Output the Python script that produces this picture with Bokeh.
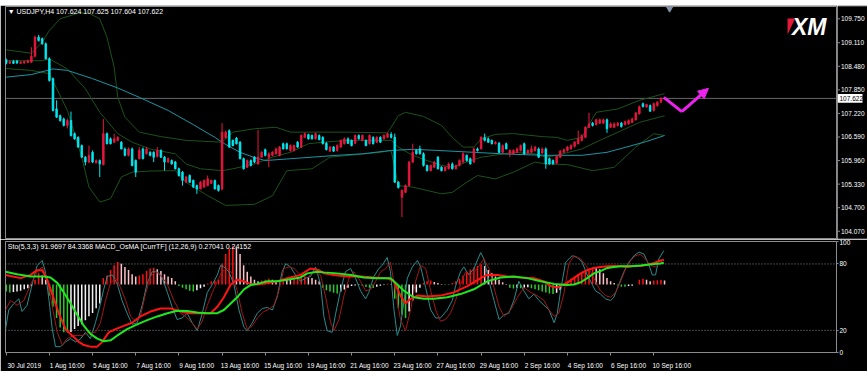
from bokeh.plotting import figure
from bokeh.layouts import column, row
from bokeh.models import (Range1d, FixedTicker, Span, Label, Arrow, NormalHead, ColumnDataSource, Spacer)
from bokeh.core.properties import value
from bokeh.embed import file_html
from bokeh.resources import INLINE

# ---------------- data (USDJPY H4, 30 Jul 2019 16:00 .. 11 Sep 2019 04:00) ----------------
opens = [108.65,108.56,108.61,108.62,108.56,108.57,108.58,108.59,108.75,109.26,
 109.22,109.08,108.68,108.15,107.34,107.16,107.07,106.90,107.03,106.68,
 106.58,106.36,106.05,105.92,106.18,105.90,105.96,105.85,106.68,106.54,
 106.45,106.50,106.45,106.27,106.10,106.27,105.96,106.01,106.27,106.14,
 106.18,106.18,106.07,106.23,106.05,105.92,105.96,105.92,105.74,105.65,
 105.38,105.56,105.43,105.29,105.20,105.25,105.29,105.35,105.43,105.29,
 105.20,106.57,106.76,106.50,106.56,106.45,106.01,105.78,105.96,106.05,
 105.87,106.05,106.25,106.05,106.10,106.14,106.10,106.41,106.41,106.23,
 106.23,106.45,106.32,106.58,106.65,106.63,106.54,106.63,106.58,106.42,
 106.21,106.32,106.23,106.32,106.41,106.54,106.50,106.42,106.63,106.50,
 106.50,106.41,106.58,106.45,106.58,106.54,106.58,106.66,106.58,105.38,
 104.98,105.11,105.29,105.92,106.23,106.27,106.14,105.83,105.69,105.78,
 106.05,105.78,105.69,105.74,105.87,105.74,105.83,105.92,106.10,106.01,
 105.92,106.27,106.27,106.57,106.54,106.50,106.41,106.42,106.18,106.41,
 106.14,106.14,106.18,106.23,106.41,106.16,106.18,106.23,106.27,106.16,
 106.27,106.01,105.96,105.89,106.05,106.18,106.23,106.27,106.34,106.41,
 106.50,106.58,106.85,106.96,106.92,106.96,106.96,107.05,106.85,106.85,
 106.90,106.96,106.92,106.94,106.98,107.05,107.21,107.48,107.39,107.43,
 107.30,107.43,107.52,107.624]
highs = [108.69,108.63,108.65,108.65,108.62,108.63,108.66,108.99,109.30,109.32,
 109.25,109.12,108.72,108.18,107.57,107.19,107.11,107.08,107.27,106.71,
 106.61,106.39,106.08,106.36,106.23,105.99,105.99,107.07,106.71,106.58,
 106.68,106.61,106.48,106.31,106.31,106.31,105.99,106.32,106.31,106.32,
 106.21,106.21,106.32,106.26,106.08,106.04,105.99,105.95,105.77,105.68,
 105.55,105.59,105.45,105.32,105.41,105.45,105.56,105.45,105.45,105.32,
 106.96,106.76,106.79,106.52,106.59,106.48,106.04,105.99,105.99,106.08,
 106.78,106.21,106.28,106.18,106.21,106.31,106.35,106.44,106.44,106.39,
 106.39,106.48,106.66,106.71,106.68,106.66,106.71,106.66,106.61,106.46,
 106.35,106.35,106.39,106.52,106.58,106.58,106.52,106.66,106.66,106.66,
 106.52,106.66,106.61,106.61,106.61,106.66,106.71,106.72,106.68,105.41,
 105.19,105.32,105.95,106.41,106.26,106.36,106.18,105.85,105.85,105.95,
 106.08,105.81,105.81,105.91,105.91,105.85,105.99,106.18,106.12,106.04,
 106.31,106.31,106.61,106.68,106.58,106.52,106.48,106.46,106.39,106.44,
 106.26,106.26,106.31,106.39,106.44,106.26,106.36,106.35,106.31,106.31,
 106.31,106.04,105.99,106.10,106.24,106.28,106.35,106.39,106.48,106.76,
 106.66,106.88,107.24,106.99,107.08,107.08,107.08,107.08,106.98,106.98,
 106.99,106.99,107.03,107.06,107.11,107.26,107.43,107.51,107.48,107.46,
 107.51,107.55,107.65,107.625]
lows = [108.53,108.54,108.54,108.54,108.54,108.55,108.57,108.57,108.72,109.14,
 109.06,108.66,108.07,107.27,107.10,107.00,106.87,106.82,106.60,106.52,
 106.30,106.03,105.83,105.89,105.89,105.88,105.52,105.83,106.39,106.39,
 106.43,106.47,106.26,106.07,106.07,105.80,105.52,105.99,105.99,106.12,
 106.07,105.92,106.04,106.03,105.69,105.89,105.85,105.72,105.53,105.29,
 105.36,105.36,105.23,105.07,105.19,105.23,105.27,105.33,105.19,105.13,
 105.16,106.55,106.30,106.34,106.39,105.99,105.72,105.76,105.80,105.89,
 105.85,106.03,106.07,105.78,106.07,106.12,106.07,106.26,106.26,106.20,
 106.20,106.30,106.30,106.56,106.52,106.52,106.52,106.50,106.39,106.23,
 106.19,106.19,106.20,106.30,106.39,106.40,106.34,106.40,106.52,106.47,
 106.34,106.39,106.39,106.43,106.43,106.52,106.56,106.55,105.36,105.21,
 104.45,105.09,105.27,105.89,106.12,106.12,105.80,105.67,105.67,105.76,
 105.72,105.67,105.67,105.72,105.72,105.72,105.80,105.89,105.93,105.85,
 105.89,106.20,106.26,106.47,106.43,106.39,106.39,106.16,106.16,106.26,
 106.05,106.12,106.16,106.20,106.12,106.14,106.16,106.20,106.03,106.14,
 105.74,105.85,105.85,105.87,106.03,106.16,106.20,106.26,106.31,106.39,
 106.47,106.56,106.83,106.87,106.90,106.94,106.94,106.70,106.83,106.83,
 106.87,106.84,106.90,106.92,106.96,107.03,107.19,107.38,107.37,107.26,
 107.27,107.40,107.51,107.604]
closes = [108.56,108.61,108.56,108.57,108.59,108.61,108.63,108.75,109.26,109.17,
 109.08,108.68,108.10,107.30,107.12,107.03,106.90,107.03,106.63,106.54,
 106.32,106.05,105.92,106.10,105.92,105.96,105.87,106.68,106.41,106.41,
 106.54,106.58,106.27,106.10,106.27,105.83,105.65,106.23,106.01,106.27,
 106.10,106.05,106.23,106.05,105.92,106.01,105.87,105.74,105.56,105.43,
 105.52,105.38,105.25,105.20,105.38,105.43,105.47,105.43,105.20,105.16,
 106.72,106.72,106.32,106.36,106.41,106.01,105.74,105.96,105.83,105.92,
 106.05,106.18,106.10,106.14,106.18,106.27,106.32,106.27,106.27,106.36,
 106.36,106.32,106.63,106.68,106.54,106.54,106.68,106.52,106.41,106.25,
 106.32,106.21,106.36,106.50,106.54,106.42,106.36,106.63,106.54,106.63,
 106.36,106.63,106.41,106.58,106.45,106.63,106.68,106.58,105.38,105.24,
 105.16,105.29,105.92,106.18,106.14,106.14,105.83,105.69,105.83,105.92,
 105.74,105.69,105.78,105.87,105.74,105.83,105.96,106.14,105.96,105.87,
 106.27,106.23,106.58,106.50,106.45,106.41,106.45,106.18,106.36,106.27,
 106.23,106.23,106.27,106.36,106.14,106.23,106.27,106.32,106.05,106.27,
 105.87,105.87,105.87,106.07,106.21,106.25,106.32,106.36,106.45,106.54,
 106.63,106.85,106.94,106.90,107.05,107.05,107.05,106.81,106.94,106.94,
 106.96,106.87,107.00,107.03,107.07,107.23,107.40,107.40,107.46,107.28,
 107.48,107.52,107.62,107.622]

# Bollinger bands (20) and slow MA, read as (bar, price)
bb_upper = [(0,108.92),(7,108.83),(10,109.12),(12,109.44),(15,109.75),(20,109.90),(23,109.90),(26,109.75),
 (28,109.26),(30,108.46),(31,107.65),(33,107.12),(37,106.72),(43,106.60),(50,106.50),(60,106.45),(63,106.72),
 (69,106.81),(75,106.85),(79,106.72),(84,106.72),(95,106.72),(106,106.70),(107,106.85),(109,107.16),(111,107.25),
 (116,107.14),(121,106.90),(124,106.58),(127,106.32),(130,106.32),(132,106.54),(136,106.66),(141,106.68),
 (149,106.60),(153,106.58),(156,106.50),(160,106.58),(164,107.25),(170,107.34),(176,107.57),(183,107.75)]
bb_middle = [(0,108.63),(7,108.63),(10,108.63),(12,108.68),(17,108.41),(22,107.88),(26,107.25),(31,106.68),
 (35,106.45),(40,106.27),(47,106.14),(50,105.87),(54,105.74),(60,105.69),(63,105.74),(69,105.87),(74,106.05),
 (79,106.18),(84,106.41),(88,106.45),(95,106.50),(107,106.50),(109,106.32),(113,106.10),(117,105.96),(121,105.83),
 (124,105.78),(128,105.92),(132,106.05),(137,106.12),(141,106.18),(147,106.14),(150,106.05),(153,106.10),
 (160,106.27),(165,106.50),(171,106.76),(176,106.98),(183,107.16)]
bb_lower = [(0,108.42),(7,108.37),(10,108.32),(12,108.28),(17,107.30),(21,106.05),(23,105.25),(26,104.85),
 (29,104.94),(32,105.52),(35,105.65),(40,105.68),(47,105.69),(50,105.38),(56,105.02),(61,104.76),(69,104.79),
 (74,105.02),(78,105.69),(85,105.74),(90,106.05),(104,106.18),(107,106.23),(109,105.29),(113,105.25),(121,105.07),
 (124,105.11),(128,105.38),(131,105.56),(136,105.47),(141,105.65),(147,105.92),(150,105.87),(156,105.85),
 (163,105.69),(169,105.78),(175,106.32),(180,106.68),(183,106.63)]
slow_ma = [(0,108.19),(7,108.26),(13,108.41),(17,108.37),(24,108.15),(31,107.90),(37,107.65),(45,107.30),
 (52,106.92),(58,106.58),(61,106.39),(65,106.18),(69,106.04),(72,105.96),(82,106.03),(92,106.10),(99,106.14),
 (107,106.23),(113,106.26),(120,106.23),(128,106.19),(140,106.13),(150,106.10),(160,106.10),(167,106.18),
 (172,106.31),(178,106.47),(183,106.63)]

# Stochastic (5,3,3) main / signal, and the two smoothed lines, read as (bar, value 0..100)
sto_main = [(-0.2,21.1),(0.7,38.4),(2.1,44.2),(3.5,48.5),(4.4,37.0),(5.8,42.7),(7.2,61.5),(8.6,78.7),(10.0,83.1),
 (10.9,73.0),(11.9,47.0),(12.8,21.1),(13.7,5.3),(15.1,5.3),(16.5,9.6),(17.9,12.5),(19.3,9.6),(20.7,12.5),(22.0,18.2),
 (23.4,12.5),(24.8,26.9),(26.2,44.2),(27.1,57.1),(28.1,68.7),(29.5,70.1),(30.9,61.5),(32.2,47.0),(33.6,35.5),
 (35.0,25.4),(36.4,26.9),(37.8,42.7),(39.2,62.9),(40.6,73.0),(42.0,73.0),(43.4,67.2),(44.8,54.3),(46.1,41.3),
 (47.5,29.8),(48.9,31.2),(50.3,35.5),(51.7,26.9),(53.1,19.7),(54.5,35.5),(55.9,54.3),(57.3,61.5),(58.7,70.1),
 (59.6,78.7),(60.5,77.3),(61.9,73.0),(63.3,61.5),(64.7,38.4),(66.1,22.6),(67.0,19.7),(68.4,26.9),(69.8,35.5),
 (71.2,39.8),(72.6,40.7),(74.0,38.4),(75.3,49.9),(76.7,73.0),(77.7,80.2),(79.0,77.3),(80.4,70.1),(81.8,64.3),
 (83.2,67.2),(84.6,68.7),(86.0,77.3),(87.4,61.5),(88.3,32.6),(89.2,19.7),(90.6,18.2),(91.6,35.5),(92.9,55.7),
 (94.3,73.0),(95.7,75.9),(97.1,67.2),(98.5,55.7),(99.9,48.5),(100.8,54.3),(102.2,68.7),(103.6,75.9),(104.5,78.7),
 (105.9,85.9),(106.8,73.0),(107.8,38.4),(108.7,15.4),(109.6,24.0),(110.6,47.0),(111.5,67.2),(112.9,77.3),
 (114.3,83.1),(115.2,77.3),(116.6,58.6),(118.0,38.4),(119.4,31.2),(120.7,31.2),(122.6,38.4),(124.0,47.0),
 (124.9,60.0),(126.3,73.0),(127.2,77.3),(128.6,70.1),(130.0,75.9),(131.9,90.3),(132.8,84.5),(134.2,64.3),
 (135.6,47.0),(137.0,29.8),(138.4,34.1),(139.7,35.5),(141.1,47.0),(142.5,64.3),(143.9,55.7),(145.3,48.5),
 (146.7,52.8),(148.1,47.0),(149.5,42.7),(150.9,38.4),(152.3,26.9),(153.2,35.5),(154.1,55.7),(155.5,81.6),
 (157.3,87.4),(158.7,85.9),(160.1,81.6),(161.5,70.1),(162.9,61.5),(163.8,55.7),(165.2,52.8),(166.6,48.5),
 (168.0,47.0),(168.9,49.9),(170.3,61.5),(171.7,73.0),(173.1,81.6),(174.5,87.4),(175.9,90.8),(177.3,88.8),
 (178.7,78.7),(179.6,70.1),(180.5,70.1),(181.4,84.5),(182.8,91.97)]
sto_signal = [(-0.2,38.4),(1.2,47.0),(3.0,42.7),(4.9,47.0),(6.8,61.5),(8.6,73.0),(10.0,77.3),(11.4,67.2),
 (12.8,41.3),(14.2,18.2),(15.6,6.7),(16.9,12.5),(18.8,15.4),(21.1,15.4),(23.0,18.2),(24.8,18.2),(26.2,26.9),
 (27.6,47.0),(29.0,62.9),(30.4,67.2),(31.8,58.6),(33.2,47.0),(34.6,32.6),(36.0,28.3),(37.3,32.6),(38.7,52.8),
 (40.1,68.7),(41.5,73.0),(42.9,70.1),(44.8,61.5),(46.6,47.0),(48.5,35.5),(49.9,32.6),(51.2,28.3),(53.1,21.1),
 (54.5,28.3),(55.9,42.7),(57.3,54.3),(58.7,64.3),(60.0,73.0),(61.4,75.9),(62.8,71.5),(64.2,55.7),(65.6,35.5),
 (67.0,21.1),(68.4,24.0),(69.8,31.2),(71.6,37.0),(73.0,39.0),(74.4,42.7),(75.8,55.7),(77.2,75.9),(78.6,77.3),
 (80.0,75.9),(81.8,70.1),(83.7,67.2),(85.5,73.0),(87.4,70.1),(88.8,49.9),(90.2,26.9),(91.1,19.7),(92.5,29.8),
 (93.9,51.4),(95.3,67.2),(96.6,73.0),(98.5,64.3),(99.9,55.7),(101.3,57.1),(102.7,64.3),(104.1,73.0),(105.5,75.9),
 (106.8,81.6),(108.2,55.7),(109.6,29.8),(111.0,19.7),(112.4,38.4),(113.8,64.3),(115.2,78.7),(116.6,75.9),
 (118.0,55.7),(119.4,38.4),(120.7,28.3),(122.1,29.8),(123.5,35.5),(124.9,47.0),(126.3,61.5),(127.7,73.0),
 (129.1,70.1),(130.9,75.9),(132.8,84.5),(134.2,75.9),(135.6,58.6),(137.0,41.3),(138.4,32.6),(140.2,38.4),
 (142.1,49.9),(143.9,58.6),(145.8,54.3),(147.6,51.4),(149.5,47.0),(150.9,38.4),(152.3,32.6),(153.6,35.5),
 (155.0,52.8),(156.4,80.2),(157.8,87.4),(159.7,84.5),(161.1,78.7),(162.4,73.0),(163.8,64.3),(165.2,55.7),
 (166.6,51.4),(168.0,49.9),(169.4,54.3),(170.8,64.3),(172.2,75.9),(173.6,83.1),(174.9,87.4),(176.3,88.8),
 (177.7,84.5),(179.1,78.7),(180.5,77.3),(181.9,81.6),(182.8,84.34)]
smooth_red = [(-0.2,70.1),(4.0,67.2),(6.8,70.1),(8.6,74.4),(10.0,74.4),(11.4,65.8),(12.8,52.8),(14.6,35.5),
 (16.5,21.1),(18.3,15.4),(20.2,9.6),(21.6,6.7),(23.4,5.3),(25.3,5.3),(26.7,9.6),(28.5,18.2),(30.4,21.1),
 (32.7,24.0),(35.0,26.9),(37.3,32.6),(40.1,37.0),(42.9,39.8),(45.7,39.8),(48.5,37.0),(51.2,35.5),(54.0,35.5),
 (56.8,35.5),(58.7,41.3),(60.5,49.9),(62.4,61.5),(64.2,65.8),(66.1,64.3),(67.9,62.0),(69.8,61.5),(72.6,62.9),
 (75.3,64.3),(78.1,67.2),(81.8,70.1),(84.6,75.9),(86.9,74.4),(88.3,71.5),(91.1,70.1),(94.8,68.7),(98.5,68.7),
 (102.2,67.8),(105.9,67.2),(107.8,64.3),(109.6,51.4),(111.0,44.2),(112.4,48.5),(114.3,51.4),(117.0,50.5),
 (120.7,51.4),(124.4,54.3),(128.2,60.0),(131.9,67.2),(133.7,70.1),(136.5,70.1),(139.3,68.7),(143.0,67.8),
 (146.7,67.2),(149.5,64.3),(151.3,60.0),(153.2,58.6),(155.9,62.9),(157.8,67.2),(159.7,71.5),(161.5,74.4),
 (163.4,76.4),(165.2,77.3),(167.1,77.9),(168.9,78.2),(170.8,77.9),(172.6,77.3),(174.5,78.2),(176.3,78.2),
 (178.2,79.3),(180.1,81.0),(181.9,83.1),(182.8,83.6)]
smooth_green = [(-0.2,73.0),(3.0,70.7),(6.8,68.7),(10.5,68.7),(12.3,67.8),(14.2,62.9),(16.0,54.3),(17.9,44.2),
 (19.7,34.1),(21.6,24.0),(23.4,16.8),(25.3,12.5),(27.1,10.2),(29.0,11.0),(30.9,15.4),(33.6,21.1),(36.4,25.4),
 (39.2,29.2),(42.0,32.6),(44.8,35.5),(47.5,37.8),(50.3,37.5),(53.1,36.1),(55.9,35.5),(58.7,35.5),(60.5,38.4),
 (62.4,44.2),(64.2,49.9),(66.1,57.1),(67.9,60.9),(69.8,62.0),(72.6,64.3),(75.3,64.3),(78.1,65.8),(81.8,67.8),
 (83.7,71.5),(86.5,73.0),(88.3,72.4),(92.0,71.5),(95.7,70.1),(99.4,67.8),(103.1,67.2),(106.8,67.2),(108.7,61.5),
 (110.6,55.7),(113.3,49.9),(116.1,48.5),(118.9,48.5),(122.6,49.9),(126.3,52.8),(130.0,57.1),(133.7,64.3),
 (137.4,67.8),(141.1,68.7),(144.8,67.2),(148.5,64.3),(152.3,62.0),(155.9,60.9),(157.8,61.5),(159.7,63.5),
 (161.5,67.2),(163.4,71.5),(165.2,73.6),(167.1,76.4),(168.9,77.3),(170.8,77.9),(172.6,77.9),(174.5,78.2),
 (176.3,78.7),(178.2,79.3),(180.1,79.9),(181.9,80.5),(182.8,81.0)]

# MACD OsMA histogram, drawn around its zero line inside the 0..100 window
osma_zero = 61.5
osma_hist = [-6.3,-7.2,-6.9,-6.3,-5.8,-4.3,-3.5,-1.4,4.3,10.0,
 8.1,4.3,-10.1,-20.2,-30.3,-38.9,-43.2,-43.5,-43.0,-40.3,
 -37.5,-36.0,-32.3,-28.8,-25.9,-21.6,-17.3,5.8,8.1,13.0,
 17.3,20.2,18.7,15.8,13.0,9.2,7.2,8.1,9.2,12.1,
 14.4,15.0,13.8,12.1,9.2,7.2,5.8,2.9,-1.4,-2.9,
 -4.3,-5.8,-6.3,-5.2,-3.5,-2.0,0.9,2.9,3.5,4.3,
 18.7,27.4,32.3,34.6,33.1,27.4,17.3,11.5,7.2,4.3,
 2.9,3.5,4.3,5.2,4.3,2.9,4.0,5.2,5.0,4.8,
 5.5,5.8,6.3,7.2,6.6,5.8,4.3,2.9,-2.9,-5.2,
 -6.3,-7.5,-8.1,-6.3,-4.6,-2.9,-1.4,-0.9,-0.6,-1.4,
 -2.3,-2.9,-3.2,-2.0,-1.2,-0.6,0.6,0.3,-13.0,-21.6,
 -27.4,-30.3,-24.5,-14.4,-7.2,-2.9,1.4,2.9,3.5,2.3,
 1.2,0.3,-0.6,-0.3,1.2,2.9,5.2,8.1,10.9,13.5,
 15.3,16.7,18.2,16.7,13.0,10.1,7.2,4.3,2.0,0.3,
 -2.9,-3.7,-2.9,-3.5,-2.9,-2.6,-3.5,-4.3,-5.2,-6.3,
 -7.2,-8.1,-8.6,-7.5,-5.2,-1.4,2.9,5.2,7.2,9.5,
 11.5,13.0,14.4,15.3,15.0,13.8,10.1,5.8,2.9,1.2,
 -0.9,-2.0,-2.1,-1.4,-1.2,0.0,4.3,5.2,4.3,2.9,
 3.5,3.7,3.9,3.6]
osma_state = ("ggwwwwwwrr" "ppggggggww" "wwwwwwwrrr" "rrppppprrr" "rrppppppgg" "gggwwwrrrr"
              "rrrrpppppp" "prrrpprrpp" "rrrrppppgg" "gggwwwwwwg" "gggwwwrpgg" "ggwwwwrrrp"
              "ppgwrrrrrr" "rrrppppppp" "ggwgwwgggg" "gggwwwrrrr" "rrrrpppppp" "gggwwwrrpp" "rrrp")

price_ticks = [109.750, 109.110, 108.480, 107.850, 107.220, 106.590, 105.960, 105.330, 104.700, 104.070]
osc_ticks = [0, 20, 80, 100]
osc_levels = [80, 20]
date_ticks = {0: "30 Jul 2019", 12: "1 Aug 16:00", 24: "5 Aug 16:00", 36: "7 Aug 16:00", 48: "9 Aug 16:00",
              60: "13 Aug 16:00", 72: "15 Aug 16:00", 84: "19 Aug 16:00", 96: "21 Aug 16:00",
              108: "23 Aug 16:00", 120: "27 Aug 16:00", 132: "29 Aug 16:00", 144: "2 Sep 16:00",
              156: "4 Sep 16:00", 168: "6 Sep 16:00", 180: "10 Sep 16:00"}
forecast_path = [(182.8, 107.65), (187.8, 107.27), (195.2, 107.89)]
sto_header = "Sto(5,3,3) 91.9697 84.3368  MACD_OsMA [CurrTF] (12,26,9) 0.27041 0.24152"

# ---------------- styling ----------------
FONT = "Liberation Sans"
BULL = "#e8173f"
BEAR = "#00e8f0"
BAND = "#1b521b"
MA_COL = "#1a95a5"
FRAME = "#8c8c8c"
MAG = "#ee22ee"
HIST_COL = {"r": "#ff1010", "p": "#ffc0cb", "g": "#2ec82e", "w": "#f4f4f4"}
X_RANGE = Range1d(-0.2, 230.8)
Y_MAIN = Range1d(103.876, 110.079)

def unzip(pairs):
    return [a for a, _ in pairs], [b for _, b in pairs]

def dark(fig):
    fig.background_fill_color = "black"
    fig.border_fill_color = "black"
    fig.grid.visible = False

# ---------------- main price panel ----------------
p1 = figure(width=837, height=234, x_range=X_RANGE, y_range=Y_MAIN,
            output_backend="svg", toolbar_location=None, x_axis_location=None, y_axis_location=None,
            min_border_left=5, min_border_right=1, min_border_top=1, min_border_bottom=1,
            outline_line_color=FRAME)
dark(p1)

n = len(closes)
bars = list(range(n))
cols = [BULL if c >= o else BEAR for o, c in zip(opens, closes)]
src = ColumnDataSource(dict(x=bars, h=highs, l=lows,
                            top=[max(o, c) for o, c in zip(opens, closes)],
                            bottom=[min(o, c) for o, c in zip(opens, closes)], color=cols))

p1.add_layout(Span(location=closes[-1], dimension="width", line_color="#666666", line_width=1, level="underlay"))

for pairs, colr in ((bb_upper, BAND), (bb_middle, BAND), (bb_lower, BAND), (slow_ma, MA_COL)):
    xs, ys = unzip(pairs)
    p1.line(xs, ys, line_color=colr, line_width=1)

p1.segment(x0="x", y0="l", x1="x", y1="h", line_color="color", line_width=1, source=src)
p1.vbar(x="x", width=0.45, top="top", bottom="bottom", fill_color="color", line_color="color",
        line_width=0.8, source=src)

fx, fy = unzip(forecast_path)
p1.line(fx[:2], fy[:2], line_color=MAG, line_width=3)
p1.add_layout(Arrow(end=NormalHead(size=10, fill_color=MAG, line_color=MAG),
                    x_start=fx[1], y_start=fy[1], x_end=fx[2], y_end=fy[2],
                    line_color=MAG, line_width=3))

# chart-shift marker at top
p1.scatter(x=[184.4], y=[110.02], marker="inverted_triangle", size=6, color="#8394a8")

# XM logo
p1.patch(x=[217.2, 219.3, 217.2], y=[109.76, 109.76, 109.33], fill_color="#e5193a", line_color=None)
p1.add_layout(Label(x=218.4, y=109.53, text="XM", text_font=FONT, text_font_size="23px",
                    text_font_style="bold italic", text_color="white", text_baseline="middle"))

header = "\u25bc USDJPY,H4  %.3f %.3f %.3f %.3f" % (opens[-1], highs[-1], lows[-1], closes[-1])
p1.add_layout(Label(x=0.4, y=109.945, text=header, text_font=FONT, text_font_size="7px",
                    text_color="white", text_baseline="middle"))

# ---------------- price scale (right strip) ----------------
pax = figure(width=30, height=234, x_range=Range1d(0, 30), y_range=Y_MAIN,
             output_backend="svg", toolbar_location=None, x_axis_location=None, y_axis_location=None,
             min_border_left=0, min_border_right=0, min_border_top=1, min_border_bottom=1,
             outline_line_color=None)
dark(pax)
pax.segment(x0=[0] * len(price_ticks), x1=[2.5] * len(price_ticks), y0=price_ticks, y1=price_ticks,
            line_color=FRAME, line_width=1)
pax.text(x=[3.5] * len(price_ticks), y=price_ticks, text=["%.3f" % t for t in price_ticks],
         text_font=value(FONT), text_font_size=value("6.5px"), text_color="white", text_baseline="middle")
cp = closes[-1]
pax.quad(left=[0], right=[25], top=[cp + 0.115], bottom=[cp - 0.115], fill_color="white", line_color=None)
pax.text(x=[2], y=[cp], text=["%.3f" % cp], text_font=value(FONT), text_font_size=value("6.5px"),
         text_color="black", text_baseline="middle")

# ---------------- oscillator panel ----------------
p2 = figure(width=867, height=132, x_range=X_RANGE, y_range=Range1d(0, 100.3),
            output_backend="svg", toolbar_location=None, y_axis_location="right",
            min_border_left=5, min_border_right=31, min_border_top=2, min_border_bottom=15,
            outline_line_color=FRAME)
dark(p2)
ay2 = p2.yaxis[0]
ay2.ticker = FixedTicker(ticks=osc_ticks)
ay2.major_label_text_color = "white"
ay2.major_label_text_font = FONT
ay2.major_label_text_font_size = "6.5px"
ay2.axis_line_color = None
ay2.minor_tick_line_color = None
ay2.major_tick_line_color = FRAME
ay2.major_tick_out = 2
ay2.major_tick_in = 0
ay2.major_label_standoff = 1

ax2 = p2.xaxis[0]
label_bars = sorted(date_ticks)
ax2.ticker = FixedTicker(ticks=[b + 5 for b in label_bars], minor_ticks=label_bars)
ax2.major_label_overrides = {b + 5: date_ticks[b] for b in label_bars}
ax2.major_label_text_color = "white"
ax2.major_label_text_font = FONT
ax2.major_label_text_font_size = "6.5px"
ax2.axis_line_color = None
ax2.major_tick_out = 0
ax2.major_tick_in = 0
ax2.minor_tick_line_color = FRAME
ax2.minor_tick_out = 3
ax2.minor_tick_in = 0
ax2.major_label_standoff = 6

for lv in osc_levels:
    p2.add_layout(Span(location=lv, dimension="width", line_color="#8a8a8a", line_width=1,
                       line_dash="1 2", level="underlay"))

m = min(len(osma_hist), len(osma_state))
hsrc = ColumnDataSource(dict(x=list(range(m)),
                             top=[osma_zero + max(v, 0) for v in osma_hist[:m]],
                             bottom=[osma_zero + min(v, 0) for v in osma_hist[:m]],
                             color=[HIST_COL[s] for s in osma_state[:m]]))
p2.vbar(x="x", width=0.42, top="top", bottom="bottom", fill_color="color", line_color=None, source=hsrc)

for pairs, colr, lw in ((sto_main, "#2a8c8c", 1), (sto_signal, "#a01818", 1),
                        (smooth_red, "#ff1414", 2), (smooth_green, "#1fe81f", 2)):
    xs, ys = unzip(pairs)
    p2.line(xs, ys, line_color=colr, line_width=lw)

p2.add_layout(Label(x=0.45, y=95.9, text=sto_header, text_font=FONT, text_font_size="7px",
                    text_color="white", text_baseline="middle"))

layout = column(Spacer(width=867, height=5), row(p1, pax), p2)
open("out.html", "w", encoding="utf-8").write(file_html(layout, INLINE))
